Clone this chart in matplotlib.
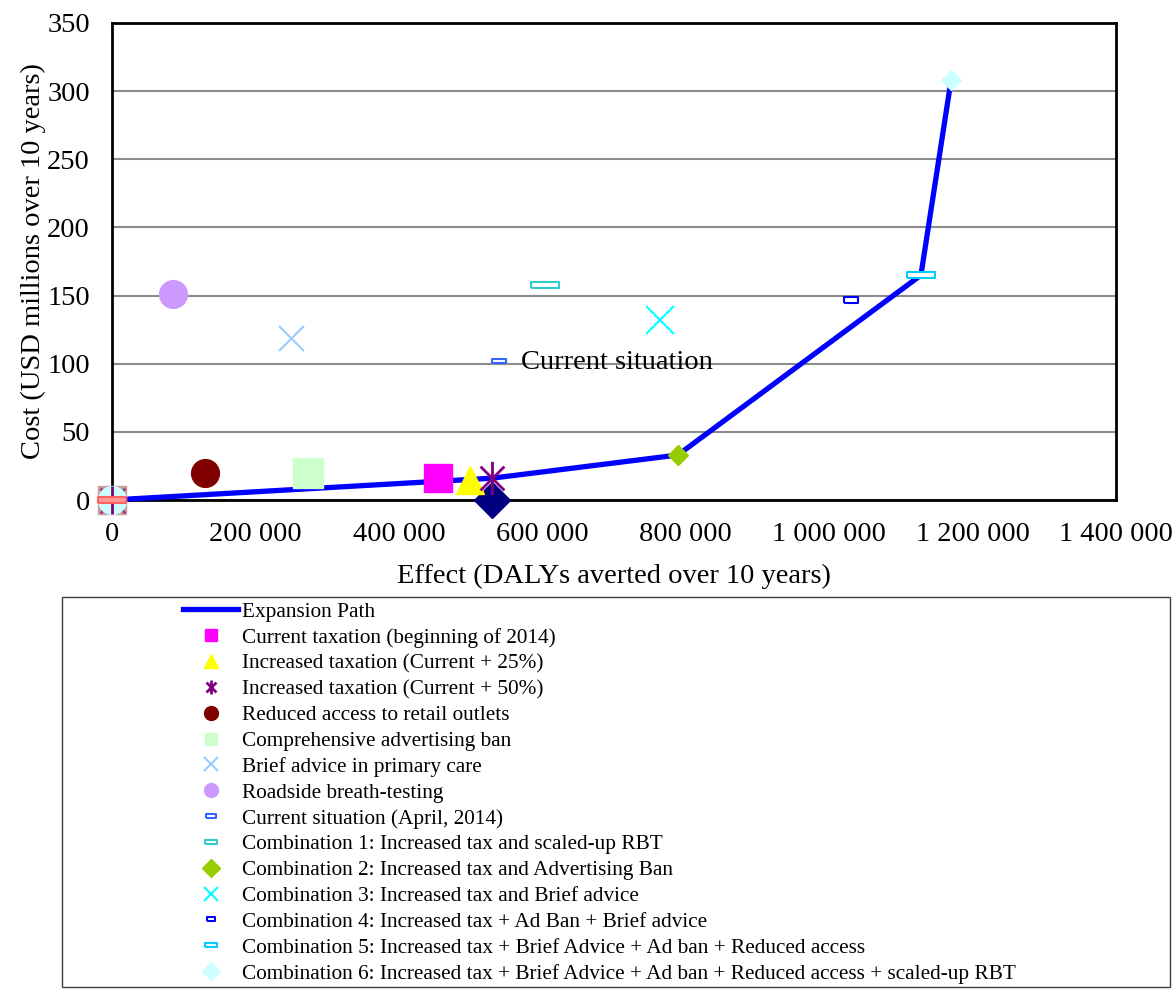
import matplotlib.pyplot as plt
from matplotlib.path import Path
from matplotlib.lines import Line2D
from matplotlib.patches import Rectangle

plt.rcParams['font.family'] = ['Liberation Serif', 'DejaVu Serif']

# Expansion path (DALYs averted, cost in USD millions)
path_x = [0, 530000, 789000, 1128000, 1170000]
path_y = [0, 16, 33, 165, 308]

# Single interventions
names = [
    'Current taxation (beginning of 2014)',
    'Increased taxation (Current + 25%)',
    'Increased taxation (Current + 50%)',
    'Reduced access to retail outlets',
    'Comprehensive advertising ban',
    'Brief advice in primary care',
    'Roadside breath-testing',
    'Current situation (April, 2014)',
    'Combination 1: Increased tax and scaled-up RBT',
    'Combination 2: Increased tax and Advertising Ban',
    'Combination 3: Increased tax and Brief advice',
    'Combination 4: Increased tax + Ad Ban + Brief advice',
    'Combination 5: Increased tax + Brief Advice + Ad ban + Reduced access',
    'Combination 6: Increased tax + Brief Advice + Ad ban + Reduced access + scaled-up RBT',
]
effect = [455000, 499000, 530000, 130000, 273000, 249000, 85000,
          539000, 604000, 789000, 764000, 1031000, 1128000, 1170000]
cost = [16, 15, 16, 20, 20, 119, 151,
        102, 158, 33, 132, 147, 165, 308]

# Markers sitting on the axes (no legend entry)
extra_x = [530000]
extra_y = [0]

# Excel-style star: X plus vertical bar
star = Path([(-1, -1), (1, 1), (-1, 1), (1, -1), (0, -1.4), (0, 1.4)],
            [Path.MOVETO, Path.LINETO, Path.MOVETO, Path.LINETO, Path.MOVETO, Path.LINETO])
def bar(w, h):
    return [(-w, -h), (w, -h), (w, h), (-w, h), (-w, -h)]

# (marker, size, face, edge, edge width, legend size)
styles = [
    ('s', 20, '#ff00ff', '#ff00ff', 1, 9),
    ('^', 20, '#ffff00', '#ffff00', 1, 10),
    (star, 24, 'none', '#800080', 2, 10),
    ('o', 20, '#800000', '#800000', 1, 10),
    ('s', 21, '#ccffcc', '#ccffcc', 1, 9),
    ('x', 18, '#99ccff', '#99ccff', 1.5, 10),
    ('o', 20, '#cc99ff', '#cc99ff', 1, 10),
    (bar(2, 0.7), 10, 'white', '#3366ff', 1.5, 7),
    (bar(2, 0.5), 20, 'white', '#33cccc', 1.5, 9),
    ('D', 10, '#99cc00', '#99cc00', 1, 9),
    ('x', 20, '#00ffff', '#00ffff', 1.5, 10),
    (bar(2, 0.8), 10, 'white', '#0000ff', 1.5, 6),
    (bar(2, 0.5), 20, 'white', '#00ccff', 1.5, 9),
    ('D', 10, '#ccffff', '#ccffff', 1, 9),
]

fig = plt.figure(figsize=(11.76, 9.9), dpi=100)
ax = fig.add_axes([112 / 1176, 1 - 500 / 990, 1004 / 1176, 477 / 990])

ax.set_xlim(0, 1400000)
ax.set_ylim(0, 350)
ax.set_yticks(range(0, 351, 50))
ax.set_xticks(range(0, 1400001, 200000))
ax.set_xticklabels(['0', '200 000', '400 000', '600 000', '800 000',
                    '1 000 000', '1 200 000', '1 400 000'])
ax.tick_params(labelsize=20.5, length=0)
ax.tick_params(axis='x', pad=16)
ax.tick_params(axis='y', pad=16)
ax.yaxis.grid(True, color='#8c8c8c', lw=1.5)
ax.set_axisbelow(True)
for s in ax.spines.values():
    s.set_linewidth(2)
    s.set_color('black')
    s.set_zorder(1)

ax.set_xlabel('Effect (DALYs averted over 10 years)', fontsize=20.5, labelpad=12)
ax.set_ylabel('Cost (USD millions over 10 years)', fontsize=20.5, labelpad=1)

# overlapping markers at the origin
ax.plot(0, 0, marker='s', ms=20, mfc='#c8a0a0', mec='#c8a0a0', clip_on=False, zorder=4)
ax.plot(0, 0, marker='x', ms=18, mec='#a04080', mew=2, clip_on=False, zorder=4)
ax.plot(0, 0, marker='o', ms=20, mfc='#ccffff', mec='#ccffff', clip_on=False, zorder=4)
ax.plot(0, 0, marker='+', ms=20, mec='#800080', mew=2, clip_on=False, zorder=4)
ax.plot(0, 0, marker=bar(2, 0.5), ms=20, mfc='#ff9999', mec='#ff6060', mew=1.5,
        clip_on=False, zorder=4)

ax.plot(path_x, path_y, color='#0000ff', lw=3.8, zorder=3, clip_on=False)

ax.plot(extra_x, extra_y, marker='D', ms=18, mfc='#000080', mec='#000080',
        ls='none', zorder=4, clip_on=False)

handles = [Line2D([], [], color='#0000ff', lw=3.8)]
for x, y, st in zip(effect, cost, styles):
    m, ms, fc, ec, mew, lms = st
    ax.plot(x, y, marker=m, ms=ms, mfc=fc, mec=ec, mew=mew, ls='none',
            zorder=4, clip_on=False)
    handles.append(Line2D([], [], marker=m, ms=lms, mfc=fc, mec=ec, mew=mew,
                          ls='none'))

ax.text(571000, 101, 'Current situation', fontsize=20.5, va='center', ha='left')

# legend box under the chart
fig.patches.append(Rectangle((62 / 1176, 1 - 987 / 990), 1108 / 1176, 390 / 990,
                             transform=fig.transFigure, fill=False,
                             edgecolor='#404040', lw=1))
fig.legend(handles, ['Expansion Path'] + names, loc='upper left',
           bbox_to_anchor=(183 / 1176, 1 - 602 / 990), frameon=False,
           fontsize=15.3, handlelength=2.6, handletextpad=0.2,
           labelspacing=0.28, borderaxespad=0, borderpad=0.0)

fig.savefig('out.png', dpi=100)
